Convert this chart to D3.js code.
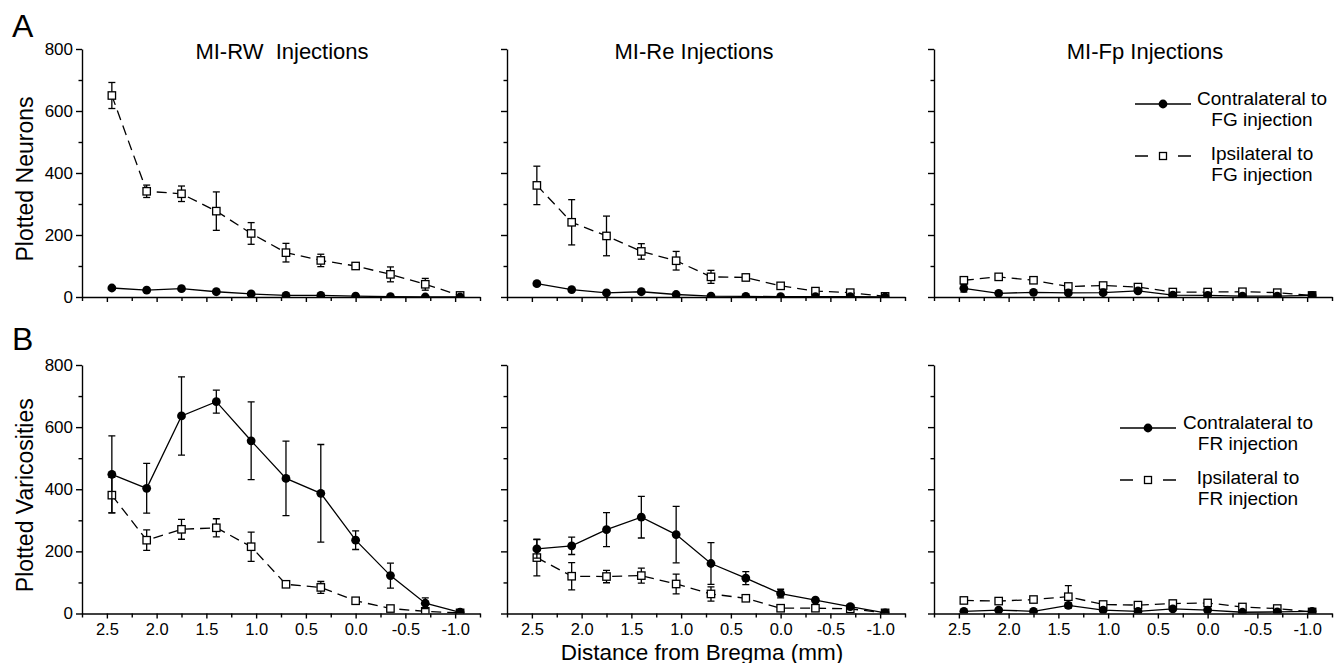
<!DOCTYPE html>
<html>
<head>
<meta charset="utf-8">
<script src="https://cdnjs.cloudflare.com/ajax/libs/d3/7.8.5/d3.min.js"></script>
<style>
  body { margin: 0; background: #fff; }
  text { font-family: "Liberation Sans", Arial, sans-serif; fill: #000; }
</style>
</head>
<body>
<svg id="fig"></svg>
<script>
// distance from bregma (mm) of every section
var bregma = [2.45, 2.10, 1.75, 1.40, 1.05, 0.70, 0.35, 0.00, -0.35, -0.70, -1.05];

// A - plotted neurons (FG)
var rwNeuronsContra    = [29, 22, 27, 17, 10, 5, 5, 3, 1, 0, 0];
var rwNeuronsContraErr = [3, 3, 3, 2, 2, 1, 1, 1, 0, 0, 0];
var rwNeuronsIpsi      = [650, 341, 333, 277, 205, 143, 118, 100, 73, 41, 5];
var rwNeuronsIpsiErr   = [42, 20, 25, 62, 35, 30, 20, 5, 24, 19, 0];

var reNeuronsContra    = [43, 24, 13, 17, 8, 3, 2, 1, 1, 1, 0];
var reNeuronsContraErr = [5, 3, 2, 2, 1, 1, 0, 0, 0, 0, 0];
var reNeuronsIpsi      = [360, 241, 197, 147, 117, 65, 63, 36, 19, 14, 2];
var reNeuronsIpsiErr   = [62, 73, 64, 25, 30, 21, 10, 4, 3, 3, 0];

var fpNeuronsContra    = [28, 12, 15, 13, 14, 20, 6, 5, 3, 3, 5];
var fpNeuronsContraErr = [12, 2, 2, 2, 3, 3, 1, 1, 1, 1, 1];
var fpNeuronsIpsi      = [54, 65, 54, 34, 37, 32, 16, 16, 17, 14, 5];
var fpNeuronsIpsiErr   = [6, 6, 4, 4, 5, 4, 3, 3, 3, 3, 0];

// B - plotted varicosities (FR)
var rwVaricContra    = [448, 403, 636, 682, 556, 435, 387, 236, 122, 33, 4];
var rwVaricContraErr = [124, 80, 126, 37, 125, 120, 157, 30, 40, 17, 0];
var rwVaricIpsi      = [381, 236, 271, 276, 215, 94, 84, 41, 16, 7, 2];
var rwVaricIpsiErr   = [57, 33, 32, 29, 47, 4, 19, 4, 3, 3, 0];

var reVaricContra    = [208, 218, 270, 310, 254, 161, 114, 64, 43, 22, 2];
var reVaricContraErr = [30, 28, 55, 67, 91, 67, 21, 14, 4, 4, 0];
var reVaricIpsi      = [180, 120, 119, 122, 95, 63, 49, 17, 17, 15, 2];
var reVaricIpsiErr   = [59, 44, 20, 24, 32, 23, 5, 3, 3, 3, 0];

var fpVaricContra    = [7, 11, 7, 26, 11, 7, 15, 11, 4, 5, 7];
var fpVaricContraErr = [2, 3, 2, 8, 3, 2, 4, 3, 1, 1, 1];
var fpVaricIpsi      = [42, 40, 45, 54, 29, 27, 32, 34, 21, 16, 5];
var fpVaricIpsiErr   = [3, 4, 8, 36, 4, 4, 10, 10, 3, 3, 0];

// ticks and labels
var xTicks = [2.5, 2.0, 1.5, 1.0, 0.5, 0.0, -0.5, -1.0];
var xMinor = [2.75, 2.25, 1.75, 1.25, 0.75, 0.25, -0.25, -0.75, -1.25];
var yTicks = [0, 200, 400, 600, 800];
var yMinor = [100, 300, 500, 700];
var panelTitles = ["MI-RW  Injections", "MI-Re Injections", "MI-Fp Injections"];
var rowLetters = ["A", "B"];
var rowYLabels = ["Plotted Neurons", "Plotted Varicosities"];
var legendTexts = [
  [["Contralateral to", "FG injection"], ["Ipsilateral to", "FG injection"]],
  [["Contralateral to", "FR injection"], ["Ipsilateral to", "FR injection"]]
];
var xLabel = "Distance from Bregma (mm)";

// build table of panels from arrays above
function zipSeries(vals, errs) {
  return bregma.map(function(d, i) { return { x: d, y: vals[i], e: errs[i] }; });
}
var rows = [
  [
    { contra: zipSeries(rwNeuronsContra, rwNeuronsContraErr), ipsi: zipSeries(rwNeuronsIpsi, rwNeuronsIpsiErr) },
    { contra: zipSeries(reNeuronsContra, reNeuronsContraErr), ipsi: zipSeries(reNeuronsIpsi, reNeuronsIpsiErr) },
    { contra: zipSeries(fpNeuronsContra, fpNeuronsContraErr), ipsi: zipSeries(fpNeuronsIpsi, fpNeuronsIpsiErr) }
  ],
  [
    { contra: zipSeries(rwVaricContra, rwVaricContraErr), ipsi: zipSeries(rwVaricIpsi, rwVaricIpsiErr) },
    { contra: zipSeries(reVaricContra, reVaricContraErr), ipsi: zipSeries(reVaricIpsi, reVaricIpsiErr) },
    { contra: zipSeries(fpVaricContra, fpVaricContraErr), ipsi: zipSeries(fpVaricIpsi, fpVaricIpsiErr) }
  ]
];

// layout
var W = 1335, H = 663;
var colLeft = [82, 507, 934];
var panelW = 398;
var rowTop = [49, 365];
var rowBottom = [297, 613.5];
var titleCenter = [282, 694, 1145];
var legendPos = [[1135, 104, 1262], [1120, 428, 1248]];

var svg = d3.select("svg#fig")
    .attr("width", W)
    .attr("height", H);

var line = d3.line()
    .x(function(d) { return d.px; })
    .y(function(d) { return d.py; });

rows.forEach(function(row, r) {
  var y = d3.scaleLinear()
      .domain([0, 800])
      .range([rowBottom[r], rowTop[r]]);

  row.forEach(function(panel, c) {
    var x = d3.scaleLinear()
        .domain([2.75, -1.25])
        .range([colLeft[c], colLeft[c] + panelW]);

    var g = svg.append("g");

    // clip so markers at 0 sit half under the axis like in the original
    var clipId = "clip-" + r + "-" + c;
    svg.append("clipPath").attr("id", clipId)
      .append("rect")
      .attr("x", colLeft[c] - 5)
      .attr("y", rowTop[r] - 20)
      .attr("width", panelW + 10)
      .attr("height", rowBottom[r] - rowTop[r] + 20);

    var plot = g.append("g").attr("clip-path", "url(#" + clipId + ")");

    ["ipsi", "contra"].forEach(function(key) {
      var pts = panel[key].map(function(d) {
        return { px: x(d.x), py: y(d.y), top: y(d.y + d.e), bot: y(Math.max(0, d.y - d.e)), e: d.e };
      });

      // error bars
      var eb = plot.selectAll("g.err-" + key)
          .data(pts.filter(function(d) { return d.e > 0; }))
          .enter()
          .append("g")
          .attr("class", "err-" + key)
          .attr("stroke", "#000")
          .attr("stroke-width", 1.3);
      eb.append("line")
          .attr("x1", function(d) { return d.px; })
          .attr("x2", function(d) { return d.px; })
          .attr("y1", function(d) { return d.top; })
          .attr("y2", function(d) { return d.bot; });
      eb.append("line")
          .attr("x1", function(d) { return d.px - 3.5; })
          .attr("x2", function(d) { return d.px + 3.5; })
          .attr("y1", function(d) { return d.top; })
          .attr("y2", function(d) { return d.top; });
      eb.append("line")
          .attr("x1", function(d) { return d.px - 3.5; })
          .attr("x2", function(d) { return d.px + 3.5; })
          .attr("y1", function(d) { return d.bot; })
          .attr("y2", function(d) { return d.bot; });

      plot.append("path")
          .datum(pts)
          .attr("d", line)
          .attr("fill", "none")
          .attr("stroke", "#000")
          .attr("stroke-width", 1.3)
          .attr("stroke-dasharray", key == "ipsi" ? "10,6" : null);

      if (key == "contra") {
        plot.selectAll("circle.pt")
            .data(pts)
            .enter()
            .append("circle")
            .attr("class", "pt")
            .attr("cx", function(d) { return d.px; })
            .attr("cy", function(d) { return d.py; })
            .attr("r", 4.4)
            .attr("fill", "#000");
      } else {
        plot.selectAll("rect.pt")
            .data(pts)
            .enter()
            .append("rect")
            .attr("class", "pt")
            .attr("x", function(d) { return d.px - 3.7; })
            .attr("y", function(d) { return d.py - 3.7; })
            .attr("width", 7.4)
            .attr("height", 7.4)
            .attr("fill", "#fff")
            .attr("stroke", "#000")
            .attr("stroke-width", 1.3);
      }
    });

    // x axis - labels only on bottom row
    var xAxis = g.append("g")
        .attr("transform", "translate(0," + rowBottom[r] + ")")
        .call(d3.axisBottom(x)
          .tickValues(xTicks)
          .tickSize(5)
          .tickSizeOuter(0)
          .tickPadding(5)
          .tickFormat(d3.format(".1f")));
    g.append("g")
        .attr("transform", "translate(0," + rowBottom[r] + ")")
        .call(d3.axisBottom(x).tickValues(xMinor).tickSize(4).tickFormat(""))
        .select(".domain").remove();
    xAxis.selectAll("text")
        .style("font-size", "16.5px")
        .text(function(d) { return d3.format(".1f")(d).replace("−", "-"); });
    if (r == 0) xAxis.selectAll("text").remove();

    // y axis - numbers only on the first column
    var yAxis = g.append("g")
        .attr("transform", "translate(" + colLeft[c] + ",0)")
        .call(d3.axisLeft(y)
          .tickValues(yTicks)
          .tickSize(6)
          .tickSizeOuter(0)
          .tickFormat(d3.format("d")));
    g.append("g")
        .attr("transform", "translate(" + colLeft[c] + ",0)")
        .call(d3.axisLeft(y).tickValues(yMinor).tickSize(3.5).tickFormat(""))
        .select(".domain").remove();
    yAxis.selectAll("text").style("font-size", "17px");
    if (c > 0) yAxis.selectAll("text").remove();

    g.selectAll(".domain, .tick line")
        .attr("stroke", "#000")
        .attr("stroke-width", 1.4);

    // panel titles only on top row
    if (r == 0) {
      svg.append("text")
          .attr("x", titleCenter[c])
          .attr("y", 59)
          .attr("text-anchor", "middle")
          .style("white-space", "pre")
          .style("font-size", "22px")
          .text(panelTitles[c]);
    }
  });

  // row letter
  svg.append("text")
      .attr("x", 12)
      .attr("y", r == 0 ? 37 : 350)
      .style("font-size", "32px")
      .text(rowLetters[r]);

  // y label
  var yc = (rowTop[r] + rowBottom[r]) / 2 + 6;
  svg.append("text")
      .attr("transform", "translate(33," + yc + ") rotate(-90)")
      .attr("text-anchor", "middle")
      .style("font-size", "23px")
      .text(rowYLabels[r]);

  // legend in right panel
  var lg = svg.append("g").attr("transform", "translate(" + legendPos[r][0] + "," + legendPos[r][1] + ")");
  var tx = legendPos[r][2] - legendPos[r][0];
  lg.append("line")
      .attr("x1", 0).attr("x2", 56).attr("y1", 0).attr("y2", 0)
      .attr("stroke", "#000").attr("stroke-width", 1.3);
  lg.append("circle").attr("cx", 28).attr("cy", 0).attr("r", 4.4).attr("fill", "#000");
  lg.append("line")
      .attr("x1", 0).attr("x2", 56).attr("y1", 52).attr("y2", 52)
      .attr("stroke", "#000").attr("stroke-width", 1.3)
      .attr("stroke-dasharray", "13,30");
  lg.append("rect").attr("x", 24.5).attr("y", 48.5).attr("width", 7).attr("height", 7)
      .attr("fill", "#fff").attr("stroke", "#000").attr("stroke-width", 1.3);
  var baselines = [[1, 22], [56, 77]];
  legendTexts[r].forEach(function(lines, k) {
    lines.forEach(function(s, j) {
      lg.append("text")
          .attr("x", tx)
          .attr("y", baselines[k][j])
          .attr("text-anchor", "middle")
          .style("font-size", "19px")
          .text(s);
    });
  });
});

// shared x label
svg.append("text")
    .attr("x", 702)
    .attr("y", 659.5)
    .attr("text-anchor", "middle")
    .style("font-size", "22.5px")
    .text(xLabel);
</script>
</body>
</html>
